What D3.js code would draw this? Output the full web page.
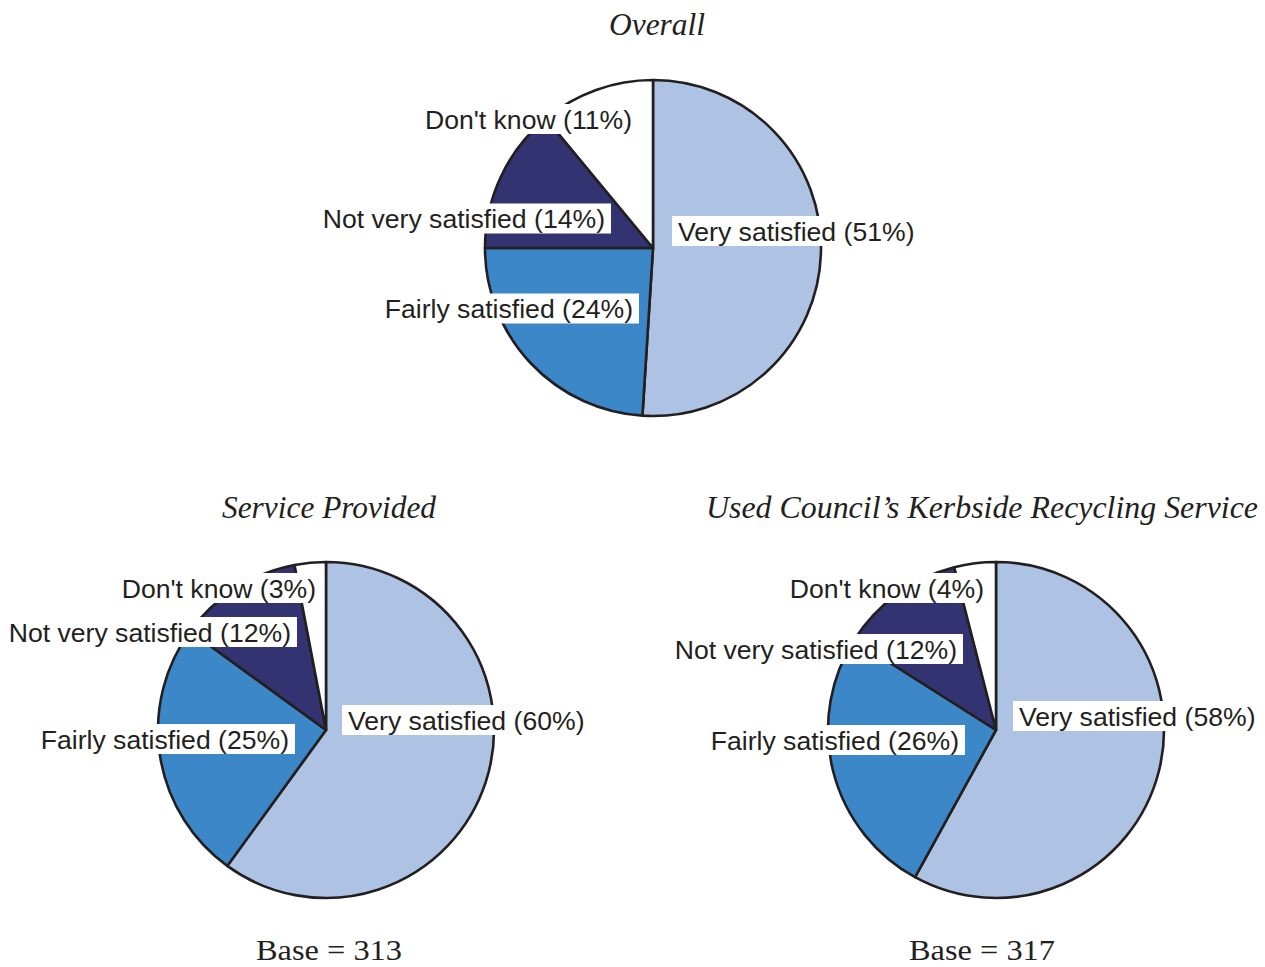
<!DOCTYPE html>
<html>
<head>
<meta charset="utf-8">
<script src="https://cdn.jsdelivr.net/npm/d3@7"></script>
<style>
  html, body { margin: 0; padding: 0; background: #fff; }
  svg { display: block; }
</style>
</head>
<body>
<svg id="chart" width="1265" height="967"></svg>
<script>
// ---- data ----
const categories = ["Very satisfied", "Fairly satisfied", "Not very satisfied", "Don't know"];
const overallValues = [51, 24, 14, 11];
const serviceValues = [60, 25, 12, 3];
const kerbsideValues = [58, 26, 12, 4];
const chartTitles = ["Overall", "Service Provided", "Used Council\u2019s Kerbside Recycling Service"];
const baseLabels = [null, "Base = 313", "Base = 317"];

// ---- style / layout ----
const colors = ["#aec3e3", "#3c87c7", "#333371", "#ffffff"];
const stroke = "#231f20";
const radius = 168;
const labelFont = "'Liberation Sans', Arial, Helvetica, sans-serif";
const serifFont = "'Liberation Serif', 'Times New Roman', serif";

const layout = [
  { cx: 653, cy: 248, titleX: 657, titleY: 35, titleW: 96, baseX: null, baseY: null, baseW: null,
    labels: [ {dx: 25, dy: -17, anchor: "start"}, {dx: -20, dy: 60.5, anchor: "end"},
              {dx: -48, dy: -29.5, anchor: "end"}, {dx: -21, dy: -129, anchor: "end"} ] },
  { cx: 326, cy: 730, titleX: 329, titleY: 518, titleW: 214, baseX: 329, baseY: 960, baseW: 146,
    labels: [ {dx: 22, dy: -10, anchor: "start"}, {dx: -37, dy: 9, anchor: "end"},
              {dx: -35, dy: -98, anchor: "end"}, {dx: -10, dy: -142, anchor: "end"} ] },
  { cx: 996, cy: 730, titleX: 982, titleY: 518, titleW: 552, baseX: 982, baseY: 960, baseW: 146,
    labels: [ {dx: 23, dy: -14, anchor: "start"}, {dx: -37, dy: 10, anchor: "end"},
              {dx: -39, dy: -81, anchor: "end"}, {dx: -12, dy: -142, anchor: "end"} ] }
];

const seriesList = [overallValues, serviceValues, kerbsideValues];

const svg = d3.select("#chart");
const color = d3.scaleOrdinal().domain(categories).range(colors);
const pie = d3.pie().sort(null).value(d => d.value).startAngle(0).endAngle(2 * Math.PI);
const arc = d3.arc().innerRadius(0).outerRadius(radius);

seriesList.forEach((vals, i) => {
  const L = layout[i];
  const data = categories.map((c, k) => ({ category: c, value: vals[k] }));
  const g = svg.append("g").attr("transform", `translate(${L.cx},${L.cy})`);

  g.selectAll("path.slice")
    .data(pie(data))
    .join("path")
    .attr("class", "slice")
    .attr("d", arc)
    .attr("fill", d => color(d.data.category))
    .attr("stroke", stroke)
    .attr("stroke-width", 2.6)
    .attr("stroke-linejoin", "round");

  // labels with white boxes
  const lg = g.append("g");
  data.forEach((d, k) => {
    const pos = L.labels[k];
    const item = lg.append("g");
    const rect = item.append("rect").attr("fill", "#fff");
    const t = item.append("text")
      .attr("x", pos.dx)
      .attr("y", pos.dy)
      .attr("dy", "0.36em")
      .attr("text-anchor", pos.anchor)
      .attr("font-family", labelFont)
      .attr("font-size", 26.6)
      .attr("fill", stroke)
      .text(`${d.category} (${d.value}%)`);
    const bb = t.node().getBBox();
    rect.attr("x", bb.x - 6).attr("y", pos.dy - 15)
        .attr("width", bb.width + 12).attr("height", 30);
  });

  // title
  svg.append("text")
    .attr("x", L.titleX)
    .attr("y", L.titleY)
    .attr("text-anchor", "middle")
    .attr("font-family", serifFont)
    .attr("font-style", "italic")
    .attr("font-size", 32)
    .attr("fill", stroke)
    .attr("textLength", L.titleW)
    .attr("lengthAdjust", "spacingAndGlyphs")
    .text(chartTitles[i]);

  if (baseLabels[i]) {
    svg.append("text")
      .attr("x", L.baseX)
      .attr("y", L.baseY)
      .attr("text-anchor", "middle")
      .attr("font-family", serifFont)
      .attr("font-size", 29)
      .attr("fill", stroke)
      .attr("textLength", L.baseW)
      .attr("lengthAdjust", "spacingAndGlyphs")
      .text(baseLabels[i]);
  }
});
</script>
</body>
</html>
